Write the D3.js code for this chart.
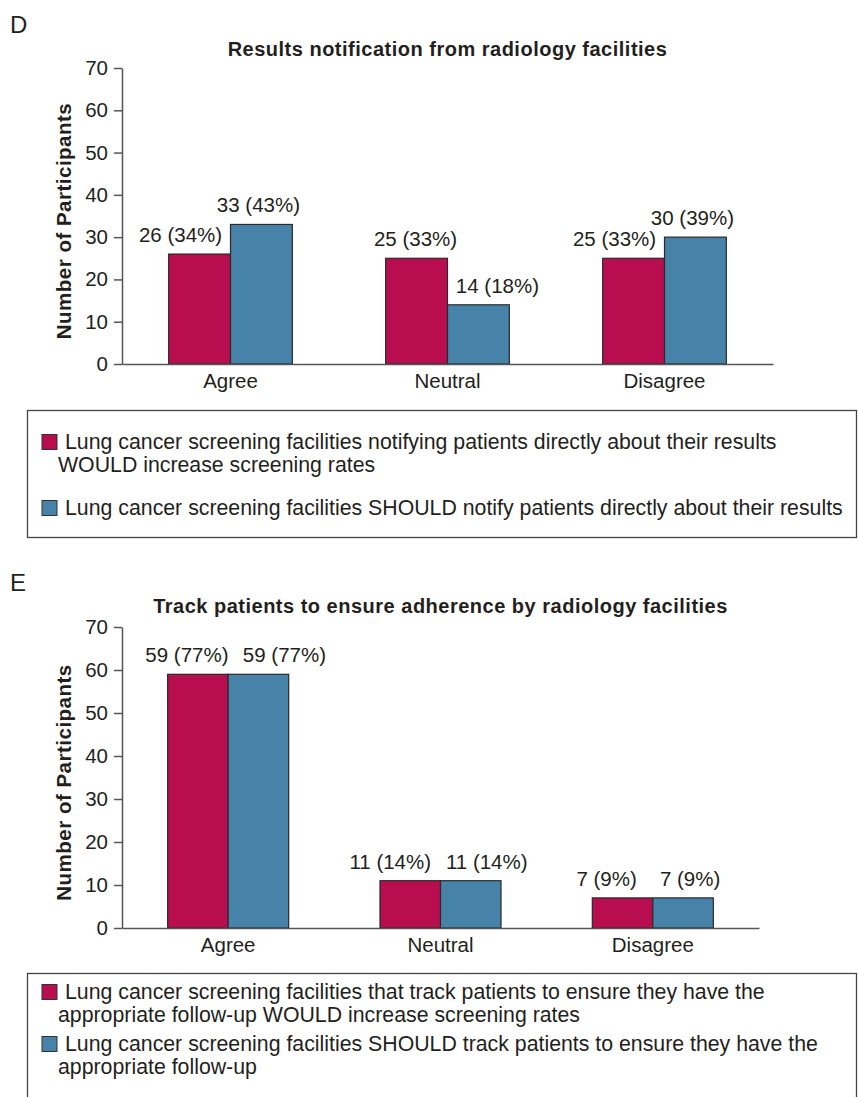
<!DOCTYPE html>
<html>
<head>
<meta charset="utf-8">
<script src="https://cdn.jsdelivr.net/npm/d3@7"></script>
<style>
  html, body { margin: 0; padding: 0; background: #fff; }
  svg { display: block; font-family: "Liberation Sans", Arial, Helvetica, sans-serif; }
</style>
</head>
<body>
<svg id="chart" width="858" height="1097"></svg>
<script>
// Response categories shared by both panels
const categories = ["Agree", "Neutral", "Disagree"];
const seriesKeys = ["would", "should"];
const yTicks = [0, 10, 20, 30, 40, 50, 60, 70];

// Panel D: results notification
const notifyWould = [26, 25, 25];
const notifyWouldPct = [34, 33, 33];
const notifyShould = [33, 14, 30];
const notifyShouldPct = [43, 18, 39];
const notifyLegend = [
  ["Lung cancer screening facilities notifying patients directly about their results", "WOULD increase screening rates"],
  ["Lung cancer screening facilities SHOULD notify patients directly about their results"]
];

// Panel E: tracking patients for adherence
const trackWould = [59, 11, 7];
const trackWouldPct = [77, 14, 9];
const trackShould = [59, 11, 7];
const trackShouldPct = [77, 14, 9];
const trackLegend = [
  ["Lung cancer screening facilities that track patients to ensure they have the", "appropriate follow-up WOULD increase screening rates"],
  ["Lung cancer screening facilities SHOULD track patients to ensure they have the", "appropriate follow-up"]
];

const colors = { would: "#b80d4e", should: "#4782a8" };
const ink = "#231f20";
const labelSize = 20.5;

const svg = d3.select("#chart");

function drawPanel(cfg) {
  const g = svg.append("g");

  // panel letter
  g.append("text").attr("x", 10).attr("y", cfg.letterY)
    .attr("font-size", 24).attr("fill", ink).text(cfg.letter);

  const x = d3.scaleBand().domain(categories).range([cfg.left, cfg.right]);
  const bw = x.bandwidth();
  const barW = bw * 0.285;
  const xs = d3.scaleBand().domain(seriesKeys).range([bw / 2 - barW, bw / 2 + barW]);
  const y = d3.scaleLinear().domain([0, 70]).range([cfg.bottom, cfg.top]);

  // title
  g.append("text").attr("x", (cfg.left + cfg.right) / 2).attr("y", cfg.titleY)
    .attr("text-anchor", "middle").attr("font-size", 20).attr("font-weight", "bold")
    .attr("letter-spacing", 0.5).attr("fill", ink).text(cfg.title);

  // y axis
  const yAxis = g.append("g").attr("transform", `translate(${cfg.left},0)`)
    .call(d3.axisLeft(y).tickValues(yTicks).tickSize(8).tickPadding(6).tickSizeOuter(0));
  yAxis.select(".domain").attr("stroke", "#555").attr("stroke-width", 1.5);
  yAxis.selectAll(".tick line").attr("stroke", "#555").attr("stroke-width", 1.5);
  yAxis.selectAll(".tick text").attr("font-size", labelSize).attr("fill", ink)
    .attr("font-family", "Liberation Sans, Arial, sans-serif");

  // y axis title
  g.append("text")
    .attr("transform", `translate(${cfg.yTitleX},${(cfg.top + cfg.bottom) / 2 + 5}) rotate(-90)`)
    .attr("text-anchor", "middle").attr("font-size", 20.5).attr("font-weight", "bold")
    .attr("letter-spacing", 0.5).attr("fill", ink).text("Number of Participants");

  // bars
  const rows = [];
  categories.forEach((c, i) => {
    rows.push({ cat: c, key: "would", v: cfg.would[i], pct: cfg.wouldPct[i], dx: cfg.labelDx[i][0] });
    rows.push({ cat: c, key: "should", v: cfg.should[i], pct: cfg.shouldPct[i], dx: cfg.labelDx[i][1] });
  });

  g.append("g").selectAll("rect").data(rows).join("rect")
    .attr("x", d => x(d.cat) + xs(d.key))
    .attr("y", d => y(d.v))
    .attr("width", xs.bandwidth())
    .attr("height", d => y(0) - y(d.v))
    .attr("fill", d => colors[d.key])
    .attr("stroke", "#2a2a2a").attr("stroke-width", 1.2);

  g.append("g").selectAll("text").data(rows).join("text")
    .attr("x", d => x(d.cat) + xs(d.key) + xs.bandwidth() / 2 + d.dx)
    .attr("y", d => y(d.v) - 12)
    .attr("text-anchor", "middle").attr("font-size", labelSize).attr("fill", ink)
    .text(d => `${d.v} (${d.pct}%)`);

  // x axis
  const xAxis = g.append("g").attr("transform", `translate(0,${cfg.bottom})`)
    .call(d3.axisBottom(x).tickSize(0).tickPadding(9).tickSizeOuter(0));
  xAxis.select(".domain").attr("stroke", "#555").attr("stroke-width", 1.5);
  xAxis.selectAll(".tick text").attr("font-size", labelSize).attr("fill", ink)
    .attr("font-family", "Liberation Sans, Arial, sans-serif");

  // legend box
  const L = cfg.legend;
  g.append("rect").attr("x", 27.5).attr("y", L.top + 0.5)
    .attr("width", 829).attr("height", L.height)
    .attr("fill", "none").attr("stroke", "#444").attr("stroke-width", 1.3);

  let yy = L.first;
  cfg.legendText.forEach((lines, k) => {
    const key = seriesKeys[k];
    g.append("rect").attr("x", 42).attr("y", yy - 14.5).attr("width", 15).attr("height", 15)
      .attr("fill", colors[key]).attr("stroke", "#333").attr("stroke-width", 1);
    const t = g.append("text").attr("x", 65).attr("y", yy)
      .attr("font-size", 21.3).attr("fill", ink);
    lines.forEach((ln, j) => {
      t.append("tspan").attr("x", j === 0 ? 65 : 58).attr("y", yy + j * L.lineGap).text(ln);
    });
    yy += (lines.length - 1) * L.lineGap + L.itemGap;
  });
}

drawPanel({
  letter: "D", letterY: 33,
  title: "Results notification from radiology facilities", titleY: 56,
  left: 122, right: 773, top: 68, bottom: 364, yTitleX: 71,
  would: notifyWould, wouldPct: notifyWouldPct,
  should: notifyShould, shouldPct: notifyShouldPct,
  labelDx: [[-19, -3], [-1, 19], [-19, -3]],
  legendText: notifyLegend,
  legend: { top: 410, height: 127, first: 449, lineGap: 23, itemGap: 43 }
});

drawPanel({
  letter: "E", letterY: 591,
  title: "Track patients to ensure adherence by radiology facilities", titleY: 613,
  left: 122, right: 759, top: 627, bottom: 928, yTitleX: 71,
  would: trackWould, wouldPct: trackWouldPct,
  should: trackShould, shouldPct: trackShouldPct,
  labelDx: [[-11, 26], [-20, 16], [-16, 7]],
  legendText: trackLegend,
  legend: { top: 973, height: 200, first: 999, lineGap: 23, itemGap: 29 }
});
</script>
</body>
</html>
